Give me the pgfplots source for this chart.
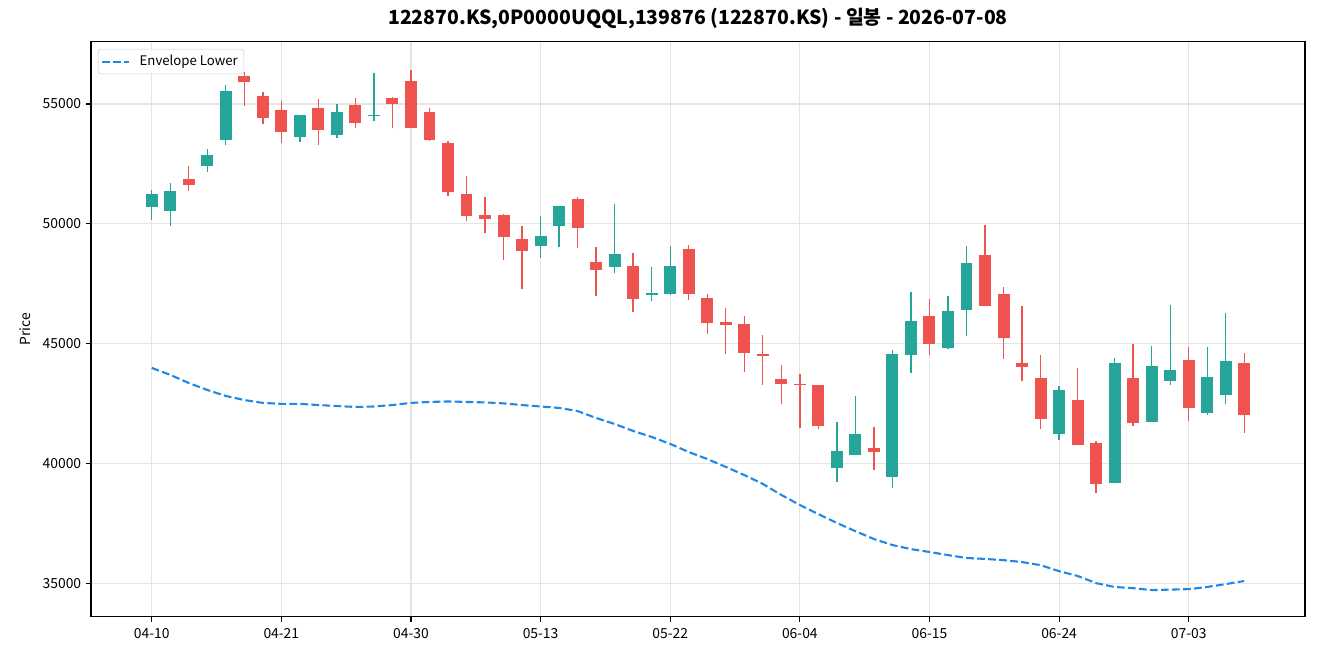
\documentclass[border=0pt]{standalone}
\usepackage{pgfplots}
\pgfplotsset{compat=1.18}
\usepackage{pgfplotstable}
\usepackage{fontspec}
\setmainfont{Noto Sans CJK KR}

\definecolor{upc}{HTML}{26A69A}
\definecolor{downc}{HTML}{EF5350}
\definecolor{envc}{HTML}{1E88E5}

% daily candles: index, open, high, low, close
\pgfplotstableread{
i o h l c
0 50700 51410 50180 51240
1 50530 51710 49890 51370
3 52410 53130 52180 52870
4 53480 55800 53300 55540
8 53620 54540 53400 54540
10 53700 55010 53600 54660
12 54480 56300 54310 54540
21 49070 50330 48590 49490
22 49890 50740 49040 50740
25 48190 50840 47930 48740
27 47020 48220 46800 47120
28 47090 49080 47050 48240
37 39800 41730 39240 40510
38 40340 42820 40340 41220
40 39450 44740 38990 44560
41 44540 47160 43790 45940
43 44800 47000 44780 46360
44 46400 49080 45330 48360
49 41220 43240 40980 43060
52 39200 44410 39180 44190
54 41750 44910 41730 44060
55 43430 46620 43290 43890
57 42100 44870 42040 43600
58 42850 46290 42500 44270
}\upcandles

\pgfplotstableread{
i o h l c
2 51870 52420 51380 51620
5 56170 56330 54900 55910
6 55330 55510 54180 54410
7 54750 55140 53380 53830
9 54830 55220 53300 53910
11 54960 55230 53980 54210
13 55250 55300 53980 55000
14 55970 56430 53990 54000
15 54660 54820 53450 53480
16 53370 53440 51180 51320
17 51240 52000 50100 50320
18 50360 51130 49600 50200
19 50360 50420 48510 49450
20 49380 49920 47290 48860
23 51030 51130 49010 49820
24 48400 49040 47010 48070
26 48240 48790 46340 46860
29 48950 49110 46830 47090
30 46900 47080 45400 45860
31 45900 46490 44590 45770
32 45810 46160 43830 44600
33 44560 45370 43290 44480
34 43520 44110 42500 43310
35 43330 43740 41500 43270
36 43270 43270 41460 41560
39 40640 41540 39730 40470
42 46150 46870 44540 45000
45 48690 49960 46560 46590
46 47070 47370 44380 45250
47 44190 46580 43450 44040
48 43560 44530 41440 41850
50 42640 43990 40770 40790
51 40850 40930 38780 39130
53 43560 44990 41580 41680
56 44310 44850 41790 42310
59 44190 44620 41290 42010
}\downcandles

% lower envelope
\pgfplotstableread{
i v
0 43990
1 43700
2 43360
3 43070
4 42820
5 42650
6 42530
7 42490
8 42490
9 42440
10 42400
11 42360
12 42380
13 42440
14 42530
15 42570
16 42590
17 42570
18 42550
19 42510
20 42440
21 42380
22 42320
23 42190
24 41900
25 41650
26 41360
27 41110
28 40820
29 40480
30 40190
31 39860
32 39520
33 39150
34 38690
35 38270
36 37890
37 37520
38 37180
39 36850
40 36600
41 36430
42 36310
43 36180
44 36060
45 36020
46 35970
47 35890
48 35760
49 35510
50 35310
51 35010
52 34850
53 34800
54 34720
55 34740
56 34760
57 34850
58 34970
59 35100
}\envtab

\begin{document}
\begin{tikzpicture}
\begin{axis}[
  at={(0,0)}, anchor=south west,
  scale only axis,
  width=874.1pt, height=414pt,
  xmin=-3.28, xmax=62.28,
  ymin=33600, ymax=57590,
  xtick={0,7,14,21,28,35,42,49,56},
  xticklabels={04-10,04-21,04-30,05-13,05-22,06-04,06-15,06-24,07-03},
  ytick={35000,40000,45000,50000,55000},
  xtick pos=bottom, ytick pos=left,
  scaled y ticks=false,
  yticklabel style={/pgf/number format/.cd, fixed, set thousands separator={}, assume math mode=true},
  ticklabel style={font=\fontsize{10}{12}\selectfont},
  xticklabel style={yshift=-1.5pt},
  tick align=outside,
  major tick length=3.5pt,
  tick style={black, line width=0.8pt},
  axis line style={line width=0.8pt},
  grid=major,
  major grid style={gray!20, line width=0.8pt},
  ylabel={Price},
  ylabel style={font=\fontsize{10}{12}\selectfont, yshift=2pt},
  title={122870.KS,0P0000UQQL,139876 (122870.KS) - 일봉 - 2026-07-08},
  title style={font=\bfseries\fontsize{14}{16}\selectfont, yshift=0pt},
  legend style={at={(0,1)}, anchor=north west, xshift=5pt, yshift=-5pt,
    draw=black!20, rounded corners=2pt, fill=white, fill opacity=0.8, text opacity=1,
    font=\fontsize{9.5}{11}\selectfont, inner sep=2.2pt,
    nodes={inner sep=2.2pt}},
  legend image code/.code={\draw[#1] (0pt,0pt) -- (19pt,0pt);},
  legend cell align=left,
  clip=true,
]
\addplot[envc, line width=1.5pt, dash pattern=on 5.55pt off 2.4pt] table[x=i, y=v] {\envtab};
\addlegendentry{\hspace{5pt}Envelope Lower}

% wicks
\addplot[draw=none, mark=none, forget plot,
  error bars/.cd, y dir=plus, y explicit, error mark=none,
  error bar style={draw=upc, line width=1pt}]
  table[x=i, y=l, y error expr=\thisrow{h}-\thisrow{l}] {\upcandles};
\addplot[draw=none, mark=none, forget plot,
  error bars/.cd, y dir=plus, y explicit, error mark=none,
  error bar style={draw=downc, line width=1pt}]
  table[x=i, y=l, y error expr=\thisrow{h}-\thisrow{l}] {\downcandles};

% bodies
\addplot[draw=none, mark=none, forget plot,
  error bars/.cd, y dir=plus, y explicit, error mark=none,
  error bar style={draw=upc, line width=8.6pt}]
  table[x=i, y=o, y error expr=\thisrow{c}-\thisrow{o}] {\upcandles};
\addplot[draw=none, mark=none, forget plot,
  error bars/.cd, y dir=plus, y explicit, error mark=none,
  error bar style={draw=downc, line width=8.6pt}]
  table[x=i, y=c, y error expr=\thisrow{o}-\thisrow{c}] {\downcandles};
\end{axis}
\pgfresetboundingbox
\path[use as bounding box] (-65.5pt,-31pt) rectangle (884.9pt,444.2pt);
\end{tikzpicture}
\end{document}
